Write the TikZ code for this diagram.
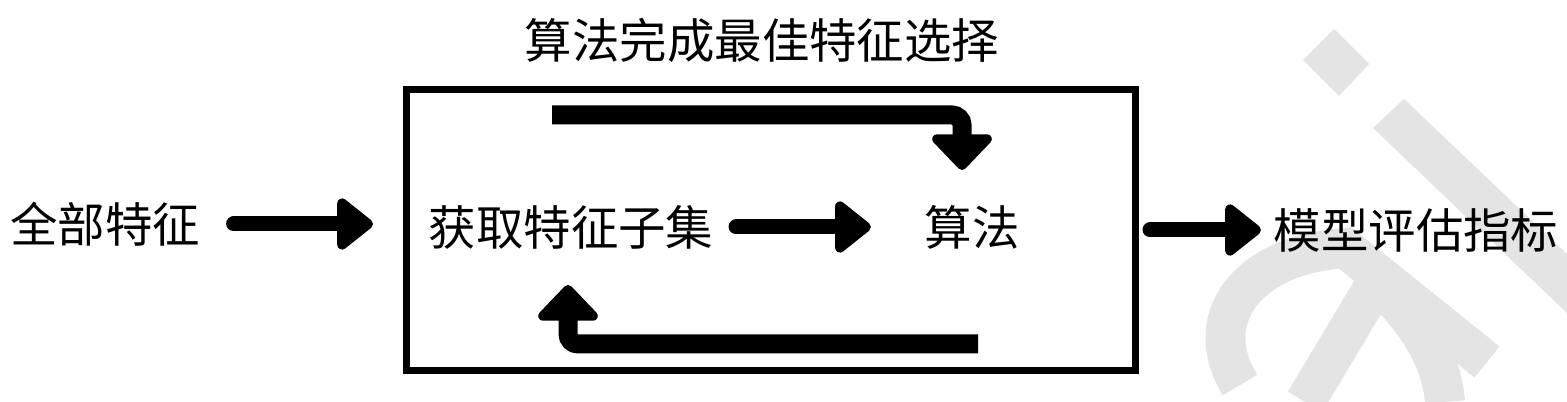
\documentclass[tikz,border=0pt]{standalone}
\usepackage{fontspec}
\setmainfont{Noto Sans CJK SC}
\usetikzlibrary{arrows.meta}
\usetikzlibrary{calc}
\usetikzlibrary{positioning}
\definecolor{wmgray}{RGB}{228,228,228}

\begin{document}
\begin{tikzpicture}[x=0.1mm, y=-0.1mm]
  \pgfmathsetmacro{\TW}{1.5}
  \pgfmathsetmacro{\LW}{1.9}
\tikzset{
  lbl/.style={inner sep=0pt, font=\fontsize{13.5pt}{16pt}\selectfont},
  framebox/.style={draw, line width=0.7mm, minimum width=72.9mm, minimum height=28.1mm, inner sep=0pt},
  flow/.style={line width=\TW mm, line cap=round,
    -{Triangle[length=3.9mm, width=5.9mm, round]}},
  turnflow/.style={line width=\LW mm, rounded corners=1mm,
    -{Triangle[length=3.8mm, width=7mm, round]}},
  wmfill/.style={fill=wmgray, draw=none},
  wmstroke/.style={draw=wmgray, line width=4mm},
}
\useasboundingbox (0,0) rectangle (1567,402);

       % watermark
       \fill [wmfill] (1303,60) -- (1334,29) -- (1369,64) -- (1339,96) -- cycle;
       \fill [wmfill] (1373,128) -- (1404,99) -- (1567,254) -- (1567,313) -- cycle;
       \draw [wmstroke] (1240,385) .. controls (1200,320) and (1245,255)
       .. (1345,248) -- (1487,362);
       \draw [wmstroke] (1305,402) -- (1372,290);
       \draw [wmstroke] (1445,402) .. controls (1442,362) and (1420,325) .. (1385,290);

       \node [lbl] (title) at (762,40) {算法完成最佳特征选择};
       \node [framebox] (box) at (771,230) {};

       \node [lbl] (all) at (105,224) {全部特征};
       \node [lbl] (sub) at (571,227) {获取特征子集};
       \node [lbl] (alg) at (972,227) {算法};
       \node [lbl] (eval) at (1416,230) {模型评估指标};

       \coordinate (ts) at (552,115);
       \coordinate (tt) at (962,170);
       \coordinate (bs) at (978,344);
       \coordinate (bt) at (568,285);

       \draw [flow, shorten <=3.3mm, shorten >=3mm] (all.east) -- (all.east -| box.west);
       \draw [flow, shorten <=2.2mm, shorten >=5.3mm] (sub.east) -- (alg.west);
       \draw [flow, shorten <=1.1mm, shorten >=1.2mm] (box.east) -- (eval.west);

       \draw [turnflow] (ts) -| (tt);
       \draw [turnflow] (bs) -| (bt);

\end{tikzpicture}
\end{document}
